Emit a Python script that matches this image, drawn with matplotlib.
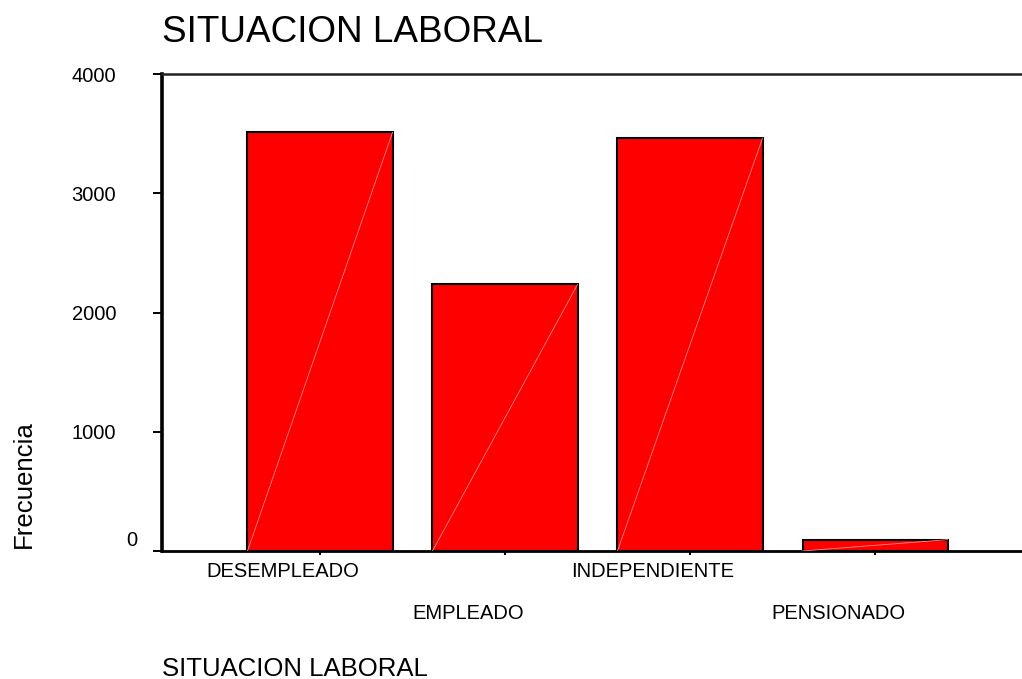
import numpy as np
import matplotlib
matplotlib.use('Agg')
import matplotlib.pyplot as plt
from matplotlib.transforms import ScaledTranslation

plt.rcParams['font.family'] = ['Liberation Sans', 'DejaVu Sans']

# datos
categorias = ['DESEMPLEADO', 'EMPLEADO', 'INDEPENDIENTE', 'PENSIONADO']
frecuencia = [3510, 2235, 3462, 95]
yticks = [0, 1000, 2000, 3000, 4000]

W, H = 1022, 679
fig = plt.figure(figsize=(W / 100, H / 100), dpi=100)
ax = fig.add_axes([162 / W, 1 - 551 / H, (1021 - 162) / W, (551 - 74) / H])

x = np.arange(len(categorias))
ancho = 0.784
barras = ax.bar(x, frecuencia, width=ancho, color='#ff0000', edgecolor='black',
                linewidth=1.5, zorder=2)
# linea diagonal tenue de cada barra
for b in barras:
    x0, x1 = b.get_x(), b.get_x() + b.get_width()
    ax.plot([x0, x1], [0, b.get_height()], color='#ff8c8c', lw=0.6, zorder=3)

ax.set_xlim(-0.854, 3.789)
ax.set_ylim(0, 4000)
ax.set_yticks(yticks)
ax.set_yticklabels([str(v) for v in yticks])
ax.set_xticks(x)
ax.set_xticklabels(categorias)

for s in ['right']:
    ax.spines[s].set_visible(False)
ax.spines['left'].set_linewidth(2.6)
ax.spines['bottom'].set_linewidth(2.0)
ax.spines['top'].set_linewidth(1.8)
ax.spines['top'].set_color('#222222')

ax.tick_params(axis='y', direction='out', length=6.5, width=1.4, pad=26.6,
               labelsize=14.5)
ax.tick_params(axis='x', direction='out', length=3, width=1.5, pad=5,
               labelsize=14.5)

# etiquetas escalonadas, corridas a la izquierda como en el original
for i, lab in enumerate(ax.get_xticklabels()):
    dy = -42 if i % 2 else 0
    lab.set_transform(lab.get_transform() +
                      ScaledTranslation(-37 / 100, dy / 100, fig.dpi_scale_trans))

# la etiqueta del 0 va un poco mas arriba y a la derecha
lab0 = ax.get_yticklabels()[0]
lab0.set_transform(lab0.get_transform() +
                   ScaledTranslation(21 / 100, 12 / 100, fig.dpi_scale_trans))

fig.text(162 / W, 1 - 42 / H, 'SITUACION LABORAL', fontsize=26.6,
         ha='left', va='baseline')
fig.text(162 / W, 1 - 676.5 / H, 'SITUACION LABORAL', fontsize=18.5,
         ha='left', va='baseline')
fig.text(24 / W, 1 - 484 / H, 'Frecuencia', fontsize=18.6, rotation=90,
         ha='center', va='center')

fig.savefig('out.png', dpi=100)
